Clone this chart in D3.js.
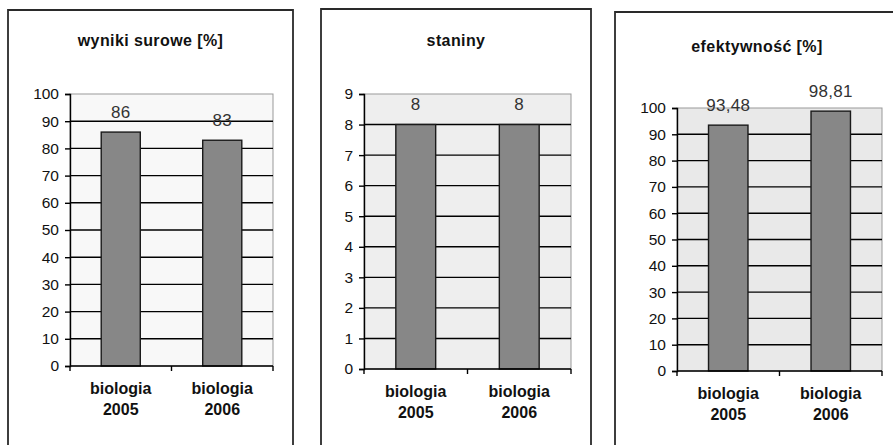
<!DOCTYPE html>
<html>
<head>
<meta charset="utf-8">
<script src="https://cdn.jsdelivr.net/npm/d3@7/dist/d3.min.js"></script>
<style>
  html, body { margin: 0; padding: 0; background: #fff; }
  svg { display: block; font-family: "Liberation Sans", Arial, sans-serif; }
</style>
</head>
<body>
<svg id="chart" width="893" height="445"></svg>
<script>
// ---- data ----
const categories = ["biologia 2005", "biologia 2006"];
const titles = ["wyniki surowe [%]", "staniny", "efektywność [%]"];
const rawScores = [86, 83];
const stanines = [8, 8];
const efficiency = [93.48, 98.81];
const rawTicks = [0, 10, 20, 30, 40, 50, 60, 70, 80, 90, 100];
const stanineTicks = [0, 1, 2, 3, 4, 5, 6, 7, 8, 9];
const efficiencyTicks = [0, 10, 20, 30, 40, 50, 60, 70, 80, 90, 100];

// ---- layout ----
const panels = [
  { title: titles[0], values: rawScores, ticks: rawTicks,
    frame: { x: 8, y: 10, w: 285 }, plot: { l: 70, r: 273, t: 94, b: 366 },
    titleY: 46, bg: "#f8f8f8" },
  { title: titles[1], values: stanines, ticks: stanineTicks,
    frame: { x: 321, y: 9, w: 270 }, plot: { l: 364, r: 571, t: 94, b: 369 },
    titleY: 46, bg: "#eeeeee" },
  { title: titles[2], values: efficiency, ticks: efficiencyTicks,
    frame: { x: 615, y: 12, w: 284 }, plot: { l: 677, r: 882, t: 108, b: 371 },
    titleY: 52, bg: "#e9e9e9" }
];

const svg = d3.select("#chart");
const fmt = v => (Number.isInteger(v) ? String(v) : d3.format(".2f")(v).replace(".", ","));

panels.forEach(p => {
  const g = svg.append("g");
  const { l, r, t, b } = p.plot;

  // frame (bottom is cut off by the picture edge)
  g.append("path")
    .attr("d", `M${p.frame.x},${p.frame.y + 500}V${p.frame.y}H${p.frame.x + p.frame.w}V${p.frame.y + 500}`)
    .attr("fill", "none").attr("stroke", "#2a2a2a").attr("stroke-width", 1.8);

  // title
  g.append("text")
    .attr("x", p.frame.x + p.frame.w / 2).attr("y", p.titleY)
    .attr("text-anchor", "middle").attr("font-weight", "bold")
    .attr("font-size", 16).attr("letter-spacing", 0.4).attr("fill", "#111")
    .text(p.title);

  const yMax = d3.max(p.ticks);
  const y = d3.scaleLinear().domain([0, yMax]).range([b, t]);
  const x = d3.scaleBand().domain(categories).range([l, r]).padding(0);

  // plot background + gray border
  g.append("rect").attr("x", l).attr("y", t).attr("width", r - l).attr("height", b - t)
    .attr("fill", p.bg).attr("stroke", "#999").attr("stroke-width", 1);

  // gridlines
  g.append("g").selectAll("line")
    .data(p.ticks.filter(v => v > 0 && v < yMax))
    .join("line")
    .attr("x1", l).attr("x2", r)
    .attr("y1", v => y(v)).attr("y2", v => y(v))
    .attr("stroke", "#000").attr("stroke-width", 1.4);

  // bars
  const bw = x.bandwidth() * 0.385;
  g.append("g").selectAll("rect")
    .data(p.values)
    .join("rect")
    .attr("x", (v, i) => x(categories[i]) + x.bandwidth() / 2 - bw / 2)
    .attr("y", v => y(v))
    .attr("width", bw)
    .attr("height", v => b - y(v))
    .attr("fill", "#878787").attr("stroke", "#1a1a1a").attr("stroke-width", 1.4);

  // value labels
  g.append("g").selectAll("text")
    .data(p.values)
    .join("text")
    .attr("x", (v, i) => x(categories[i]) + x.bandwidth() / 2)
    .attr("y", v => y(v) - 14.5)
    .attr("text-anchor", "middle").attr("font-size", 17).attr("fill", "#333")
    .attr("letter-spacing", 0.3)
    .text(v => fmt(v));

  // y axis
  const yAxis = g.append("g").attr("transform", `translate(${l},0)`)
    .call(d3.axisLeft(y).tickValues(p.ticks).tickSize(5).tickPadding(6).tickFormat(d3.format("d")));
  yAxis.select(".domain").attr("stroke", "#000").attr("stroke-width", 1.4);
  yAxis.selectAll(".tick line").attr("stroke", "#000").attr("stroke-width", 1.4);
  yAxis.selectAll(".tick text").attr("font-size", 15.5).attr("fill", "#111")
    .attr("font-family", "Liberation Sans, Arial, sans-serif");

  // x axis
  const xAxisG = g.append("g").attr("transform", `translate(0,${b})`);
  xAxisG.append("line").attr("x1", l).attr("x2", r).attr("y1", 0).attr("y2", 0)
    .attr("stroke", "#000").attr("stroke-width", 1.4);
  const bounds = [l].concat(categories.map(c => x(c) + x.bandwidth()));
  xAxisG.selectAll("line.tk").data(bounds).join("line").attr("class", "tk")
    .attr("x1", d => d).attr("x2", d => d).attr("y1", 0).attr("y2", 5)
    .attr("stroke", "#000").attr("stroke-width", 1.4);

  // category labels (two lines)
  const cl = xAxisG.selectAll("text.cat").data(categories).join("text").attr("class", "cat")
    .attr("text-anchor", "middle").attr("font-weight", "bold").attr("font-size", 16).attr("fill", "#111");
  cl.each(function (c) {
    const parts = c.split(" ");
    const cx = x(c) + x.bandwidth() / 2;
    d3.select(this).selectAll("tspan").data(parts).join("tspan")
      .attr("x", cx).attr("y", (d, i) => 28 + i * 21).text(d => d);
  });
});
</script>
</body>
</html>
